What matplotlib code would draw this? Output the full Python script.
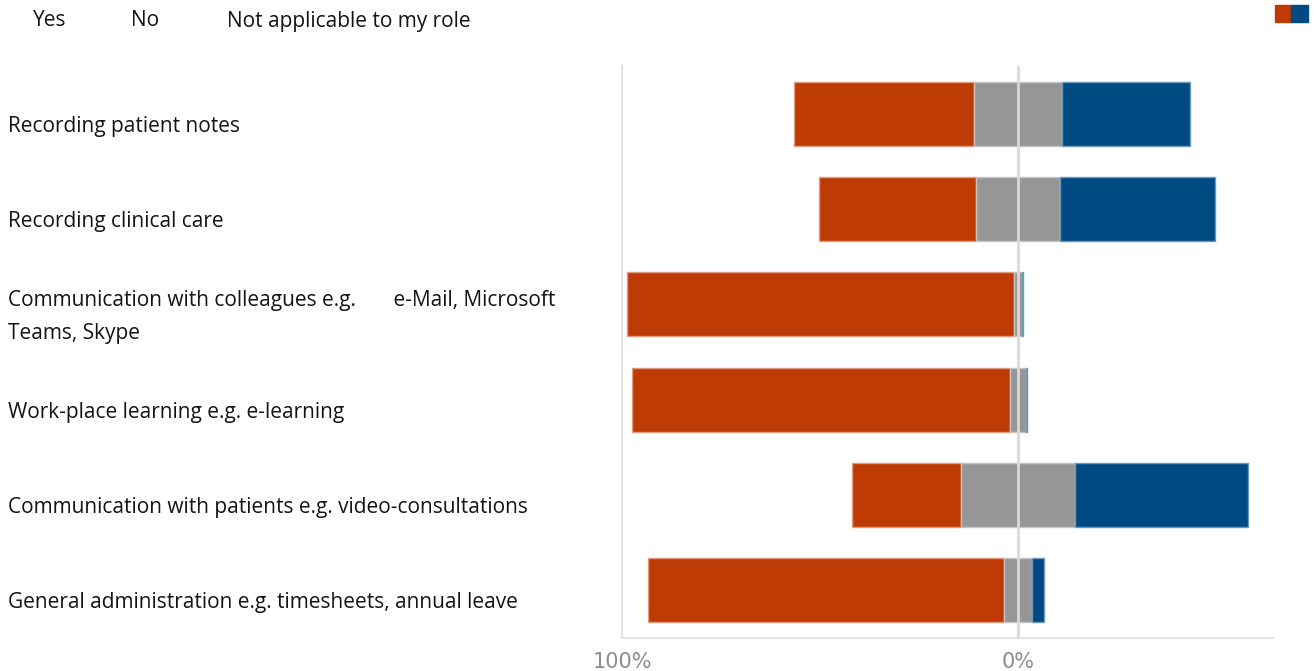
import matplotlib.pyplot as plt
import matplotlib.transforms as mtransforms
from matplotlib.patches import Rectangle
import numpy as np

plt.rcParams['font.family'] = ['Open Sans', 'DejaVu Sans']

# survey items, top to bottom
activities = [
    "Recording patient notes",
    "Recording clinical care",
    "Communication with colleagues e.g.       e-Mail, Microsoft\nTeams, Skype",
    "Work-place learning e.g. e-learning",
    "Communication with patients e.g. video-consultations",
    "General administration e.g. timesheets, annual leave",
]
# percentages of respondents
yes = [45.5, 39.6, 97.7, 95.7, 27.3, 90.0]
no = [22.2, 21.2, 2.0, 3.8, 29.0, 7.1]
not_applicable = [32.3, 39.2, 0.3, 0.5, 43.7, 2.9]
legend_labels = ["Yes", "No", "Not applicable to my role"]
tick_labels = ["100%", "0%"]

c_yes = "#BE3B05"
c_no = "#969696"
c_na = "#004A84"

fig = plt.figure(figsize=(13.16, 6.71), dpi=100)
ax = fig.add_axes([622 / 1316, 1 - 638 / 671, 651 / 1316, 572 / 671])

yes = np.array(yes)
no = np.array(no)
na = np.array(not_applicable)
y = np.arange(len(activities))
h = 0.67

# "No" centred on zero, "Yes" to the left, "N/A" to the right
ax.barh(y, -yes, left=-no / 2, height=h, color=c_yes, edgecolor="#E29B7C", linewidth=1)
ax.barh(y, no, left=-no / 2, height=h, color=c_no, edgecolor="#C4C4C4", linewidth=1)
ax.barh(y, na, left=no / 2, height=h, color=c_na, edgecolor="#6F97BA", linewidth=1)

ax.axvline(0, color="#D9D9D9", linewidth=2, zorder=5)

ax.set_xlim(-100, 64.4)
ax.set_ylim(len(activities) - 0.5, -0.5)
ax.set_yticks([])
ax.set_xticks([-100, 0])
ax.set_xticklabels(tick_labels, color="#8C8C8C", fontsize=15, family="Liberation Sans Narrow")
ax.tick_params(axis="x", length=0, pad=10)

for side in ["top", "right"]:
    ax.spines[side].set_visible(False)
for side in ["left", "bottom"]:
    ax.spines[side].set_color("#E3E3E3")
    ax.spines[side].set_linewidth(1.5)

# row labels on the far left
trans = mtransforms.blended_transform_factory(fig.transFigure, ax.transData)
for i, label in enumerate(activities):
    ax.text(8 / 1316, i + 0.13, label, transform=trans, ha="left", va="center",
            fontsize=15, color="#141414", linespacing=1.77, clip_on=False)

# legend texts along the top
for x, label in zip([33, 131, 227], legend_labels):
    fig.text(x / 1316, 1 - 21 / 671, label, ha="left", va="center", fontsize=15, color="#141414")
fig.patches.append(Rectangle((1275 / 1316, 1 - 22 / 671), 16 / 1316, 17 / 671,
                             transform=fig.transFigure, color=c_yes))
fig.patches.append(Rectangle((1291 / 1316, 1 - 22 / 671), 17 / 1316, 17 / 671,
                             transform=fig.transFigure, color=c_na))

fig.savefig("out.png", dpi=100)
